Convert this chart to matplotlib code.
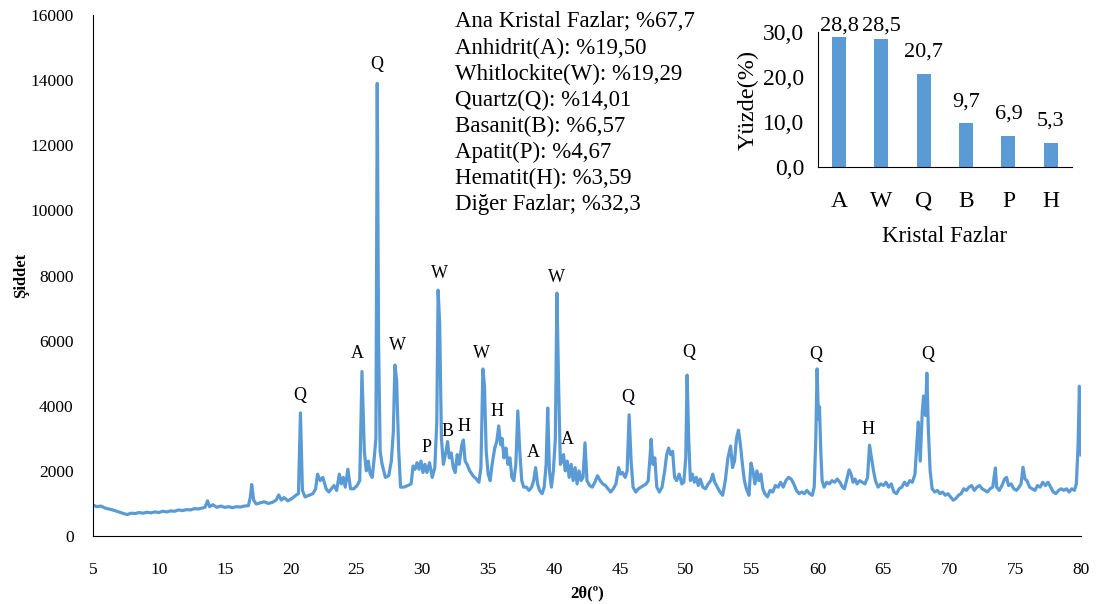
import matplotlib.pyplot as plt

plt.rcParams['font.family'] = ['Liberation Serif', 'DejaVu Serif']

# XRD deseni (2θ, şiddet)
two_theta = [
    5.0, 5.3, 5.6, 5.9, 6.2, 6.5, 6.8, 7.1, 7.4, 7.6, 7.9, 8.2, 8.5, 8.8, 9.1, 9.4, 9.7,
    10.0, 10.3, 10.6, 10.9, 11.2, 11.5, 11.8, 12.1, 12.4, 12.7, 13.0, 13.3, 13.5, 13.7, 13.85,
    14.1, 14.4, 14.7, 15.0, 15.3, 15.6, 15.9, 16.2, 16.5, 16.8, 16.95, 17.05, 17.2, 17.4, 17.7,
    18.0, 18.3, 18.6, 18.9, 19.1, 19.3, 19.5, 19.8, 20.1, 20.4, 20.6, 20.75, 20.9, 21.1, 21.4,
    21.7, 21.9, 22.05, 22.25, 22.45, 22.7, 22.9, 23.1, 23.3, 23.5, 23.7, 23.85, 24.0, 24.15,
    24.35, 24.55, 24.8, 25.05, 25.25, 25.42, 25.6, 25.75, 25.9, 26.05, 26.2, 26.35, 26.48,
    26.58, 26.68, 26.8, 26.95, 27.2, 27.45, 27.65, 27.8, 27.92, 28.05, 28.2, 28.35, 28.6, 28.9,
    29.15, 29.3, 29.45, 29.6, 29.75, 29.9, 30.05, 30.2, 30.35, 30.55, 30.75, 30.95, 31.1, 31.2,
    31.32, 31.45, 31.6, 31.8, 31.92, 32.05, 32.2, 32.35, 32.5, 32.65, 32.8, 33.0, 33.12, 33.25,
    33.4, 33.6, 33.85, 34.1, 34.3, 34.45, 34.6, 34.72, 34.85, 35.0, 35.15, 35.3, 35.5, 35.65,
    35.8, 35.95, 36.05, 36.2, 36.35, 36.5, 36.65, 36.8, 36.95, 37.1, 37.25, 37.4, 37.55, 37.7,
    37.9, 38.1, 38.3, 38.45, 38.6, 38.75, 38.9, 39.1, 39.25, 39.4, 39.52, 39.65, 39.8, 39.95,
    40.1, 40.22, 40.35, 40.48, 40.6, 40.72, 40.85, 41.0, 41.15, 41.3, 41.45, 41.6, 41.75, 41.9,
    42.05, 42.2, 42.35, 42.5, 42.7, 42.9, 43.1, 43.3, 43.5, 43.7, 43.9, 44.1, 44.3, 44.5, 44.7,
    44.9, 45.05, 45.2, 45.4, 45.55, 45.7, 45.85, 46.0, 46.2, 46.4, 46.6, 46.8, 47.0, 47.15,
    47.3, 47.37, 47.5, 47.65, 47.8, 48.0, 48.2, 48.4, 48.55, 48.7, 48.85, 49.0, 49.15, 49.3,
    49.5, 49.7, 49.85, 50.0, 50.1, 50.22, 50.35, 50.5, 50.65, 50.8, 50.95, 51.1, 51.3, 51.5,
    51.7, 51.9, 52.05, 52.2, 52.4, 52.6, 52.8, 53.0, 53.2, 53.4, 53.55, 53.7, 53.85, 54.0,
    54.15, 54.3, 54.45, 54.6, 54.8, 54.95, 55.1, 55.25, 55.4, 55.55, 55.7, 55.85, 56.0, 56.2,
    56.4, 56.6, 56.8, 57.0, 57.2, 57.4, 57.6, 57.8, 58.0, 58.2, 58.4, 58.6, 58.8, 59.0, 59.2,
    59.4, 59.6, 59.75, 59.87, 59.97, 60.07, 60.15, 60.25, 60.35, 60.5, 60.7, 60.9, 61.1, 61.3,
    61.5, 61.7, 61.9, 62.05, 62.2, 62.4, 62.55, 62.7, 62.85, 63.0, 63.2, 63.4, 63.6, 63.8,
    63.95, 64.1, 64.25, 64.4, 64.6, 64.8, 65.0, 65.2, 65.4, 65.6, 65.8, 66.0, 66.2, 66.4, 66.6,
    66.8, 67.0, 67.2, 67.4, 67.55, 67.65, 67.8, 67.95, 68.05, 68.2, 68.3, 68.42, 68.55, 68.7,
    68.9, 69.1, 69.3, 69.5, 69.7, 69.9, 70.1, 70.3, 70.5, 70.7, 70.9, 71.1, 71.3, 71.5, 71.7,
    71.9, 72.1, 72.3, 72.5, 72.7, 72.9, 73.1, 73.3, 73.5, 73.6, 73.8, 74.0, 74.2, 74.35, 74.5,
    74.7, 74.9, 75.1, 75.3, 75.45, 75.6, 75.75, 75.9, 76.1, 76.3, 76.5, 76.7, 76.9, 77.1, 77.3,
    77.5, 77.7, 77.9, 78.1, 78.3, 78.5, 78.7, 78.9, 79.1, 79.3, 79.5, 79.65, 79.78, 79.88,
    79.96, 80.0,
]
intensity = [
    950, 900, 920, 860, 830, 800, 760, 720, 680, 660, 700, 690, 720, 700, 730, 710, 740,
    720, 760, 740, 770, 760, 800, 780, 810, 800, 840, 830, 860, 880, 1080, 900,
    960, 880, 920, 880, 900, 870, 900, 890, 920, 930, 1200, 1580, 1100, 980, 1020,
    1050, 1000, 1030, 1100, 1260, 1100, 1180, 1080, 1150, 1250, 1300, 3780, 1400, 1200, 1250,
    1300, 1450, 1900, 1700, 1800, 1450, 1350, 1450, 1550, 1400, 1900, 1600, 1800, 1500,
    2050, 1450, 1450, 1550, 1700, 5050, 2600, 2000, 2300, 1900, 1800, 2400, 3000,
    13900, 6000, 2600, 2200, 1800, 1850, 2300, 3200, 5250, 4800, 2700, 1500, 1500, 1550,
    1600, 2150, 2050, 2250, 2050, 2300, 1950, 2200, 1950, 2250, 1800, 2100, 3500, 7550,
    6500, 3000, 2200, 2600, 2900, 2400, 2550, 2100, 1950, 2500, 2200, 2800, 2950, 2300,
    2200, 2000, 1850, 1750, 1650, 2100, 5130, 4600, 2600, 1900, 1700, 2200, 2700, 2900,
    3380, 2800, 3000, 2400, 2700, 2200, 2400, 1800, 1700, 2200, 3840, 2600, 1700, 1500,
    1500, 1400, 1500, 1700, 2100, 1600, 1400, 1300, 1500, 2200, 3930, 2000, 1500, 2000,
    3000, 7460, 4550, 2200, 2300, 2500, 2000, 2300, 1800, 2200, 1700, 2100, 1600, 2000,
    1700, 1800, 2860, 1700, 1550, 1500, 1650, 1850, 1700, 1600, 1550, 1450, 1350, 1450, 1600,
    2100, 1900, 1950, 1800, 2000, 3720, 2300, 1500, 1350, 1450, 1500, 1550, 1600, 1700,
    2500, 2970, 2200, 2400, 1500, 1350, 1500, 2000, 2500, 2700, 2500, 2600, 1800, 1700,
    1900, 1600, 1650, 2400, 4940, 3000, 1700, 1900, 1650, 1800, 1550, 1750, 1500, 1450,
    1600, 1700, 1900, 1650, 1500, 1350, 1250, 1700, 2400, 2760, 2100, 2300, 3000, 3250,
    2800, 2200, 1700, 1450, 1250, 2240, 2000, 1600, 2000, 1700, 1900, 1450, 1300, 1200,
    1400, 1350, 1550, 1500, 1650, 1500, 1700, 1800, 1750, 1600, 1400, 1300, 1350, 1300, 1400,
    1300, 1250, 1500, 3000, 5130, 3600, 3970, 2600, 1700, 1500, 1650, 1600, 1700, 1650,
    1750, 1650, 1500, 1450, 1700, 2030, 1900, 1650, 1750, 1600, 1700, 1650, 1600, 1800,
    2790, 2400, 2000, 1700, 1500, 1600, 1550, 1650, 1500, 1600, 1350, 1300, 1450, 1500, 1650,
    1550, 1700, 1650, 1900, 2900, 3500, 2300, 3800, 4300, 3700, 5000, 3200, 2000, 1450,
    1350, 1400, 1300, 1350, 1250, 1300, 1200, 1100, 1150, 1250, 1300, 1450, 1400, 1500, 1550,
    1400, 1500, 1550, 1450, 1400, 1350, 1450, 1500, 2090, 1500, 1400, 1550, 1750, 1800, 1550,
    1600, 1450, 1400, 1500, 1600, 2110, 1750, 1700, 1500, 1450, 1400, 1550, 1500, 1650, 1550,
    1650, 1500, 1350, 1300, 1400, 1450, 1400, 1450, 1350, 1450, 1400, 1600, 2800, 4600,
    3200, 2490,
]

# Pik etiketleri
peak_labels = ['Q', 'A', 'Q', 'W', 'P', 'W', 'B', 'H', 'W', 'H', 'A', 'W', 'A',
               'Q', 'Q', 'Q', 'H', 'Q']
peak_x = [20.7, 25.1, 26.56, 28.1, 30.3, 31.3, 31.95, 33.2, 34.5, 35.7, 38.4, 40.2, 41.0,
          45.6, 50.2, 59.9, 63.8, 68.4]
peak_y = [4330, 5620, 14470, 5840, 2730, 8050, 3220, 3350, 5590, 3810, 2550, 7950, 2950,
          4240, 5650, 5560, 3260, 5560]

phase_text = [
    'Ana Kristal Fazlar; %67,7',
    'Anhidrit(A): %19,50',
    'Whitlockite(W): %19,29',
    'Quartz(Q): %14,01',
    'Basanit(B): %6,57',
    'Apatit(P): %4,67',
    'Hematit(H): %3,59',
    'Diğer Fazlar; %32,3',
]

# Küçük grafik (kristal fazlar yüzdesi)
phases = ['A', 'W', 'Q', 'B', 'P', 'H']
percent = [28.8, 28.5, 20.7, 9.7, 6.9, 5.3]

blue = '#5B9BD5'

fig = plt.figure(figsize=(11.12, 6.04), dpi=100)
ax = fig.add_axes([0.0836, 0.1126, 0.8885, 0.8625])
ax.plot(two_theta, intensity, color=blue, lw=2.3)
ax.set_xlim(5, 80)
ax.set_ylim(0, 16000)
ax.set_xticks(range(5, 81, 5))
ax.set_yticks(range(0, 16001, 2000))
ax.tick_params(length=0, labelsize=12.5)
ax.tick_params(axis='x', pad=19)
ax.tick_params(axis='y', pad=14)
for s in ['top', 'right']:
    ax.spines[s].set_visible(False)
ax.set_xlabel('2θ(º)', fontsize=12, fontweight='bold', labelpad=5)
ax.set_ylabel('Şiddet', fontsize=12, fontweight='bold', labelpad=1)

for lab, x, y in zip(peak_labels, peak_x, peak_y):
    ax.text(x, y, lab, ha='center', va='center', fontsize=13)

for i, t in enumerate(phase_text):
    fig.text(0.409, 0.9636 - i * 26.1 / 604, t, ha='left', va='center', fontsize=16.5)

# inset
ax2 = fig.add_axes([0.7356, 0.7235, 0.2284, 0.2235])
ax2.bar(range(len(phases)), percent, width=0.33, color=blue)
ax2.set_xlim(-0.5, 5.5)
ax2.set_ylim(0, 30)
ax2.set_yticks([0, 10, 20, 30])
ax2.set_yticklabels(['0,0', '10,0', '20,0', '30,0'])
ax2.set_xticks(range(len(phases)))
ax2.set_xticklabels(phases)
ax2.tick_params(length=0, labelsize=17)
ax2.tick_params(axis='x', pad=17)
ax2.tick_params(axis='y', pad=10)
for s in ['top', 'right']:
    ax2.spines[s].set_visible(False)
for i, v in enumerate(percent):
    ax2.text(i, min(v + 2.7, 29.2), f'{v:.1f}'.replace('.', ','), ha='center', va='bottom',
             fontsize=16)
ax2.set_xlabel('Kristal Fazlar', fontsize=16.5, labelpad=10)
ax2.set_ylabel('Yüzde(%)', fontsize=17.5, labelpad=3)

fig.savefig('out.png', dpi=100)
